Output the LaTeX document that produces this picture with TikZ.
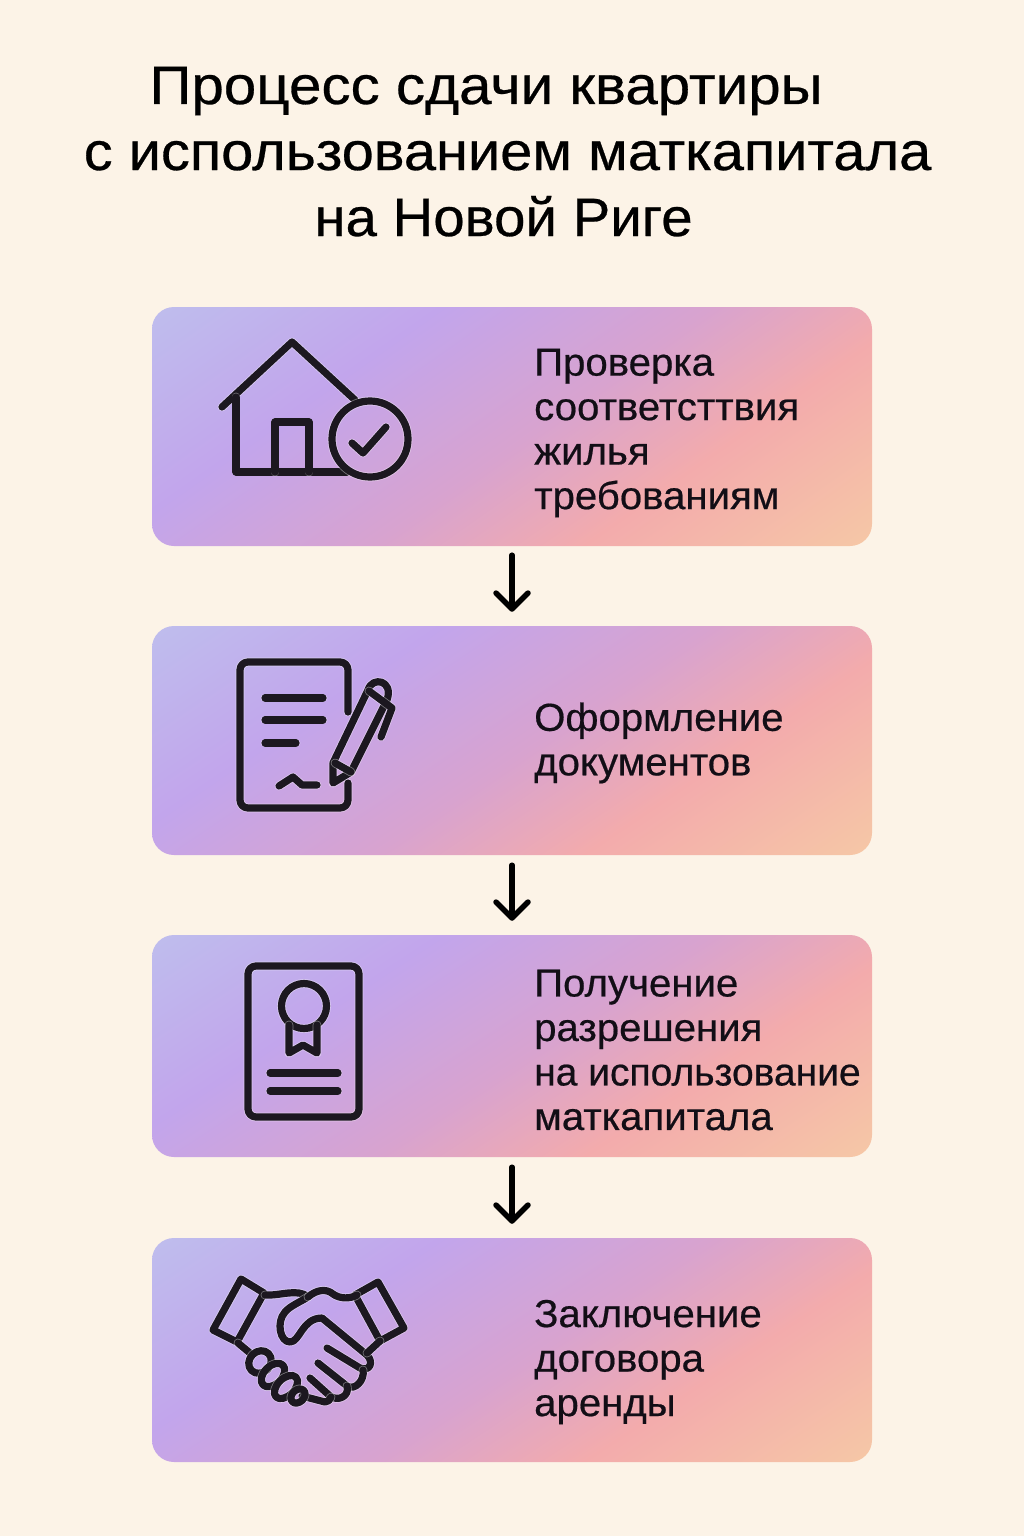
\documentclass[tikz,border=0pt]{standalone}
\usepackage{fontspec}
\setmainfont[FakeStretch=1.03,FakeBold=0.5]{Liberation Sans}
\usetikzlibrary{arrows.meta}
\definecolor{bgc}{HTML}{FCF3E7}
\definecolor{ink}{HTML}{1C1820}
\definecolor{txt}{HTML}{120E16}
\pgfdeclarefunctionalshading{boxgrad}{\pgfpoint{-50bp}{-50bp}}{\pgfpoint{50bp}{50bp}}{}{
35.355 add 70.71 div 1 exch sub 0.32 mul exch 35.355 add 70.71 div 0.68 mul add
dup 0.34 le {0.34 div dup 0.024 mul 0.737 add exch dup -0.169 mul 0.816 add exch -0.008 mul 0.933 add}
{dup 0.52 le {0.34 sub 0.18 div dup 0.086 mul 0.761 add exch dup -0.008 mul 0.647 add exch -0.113 mul 0.925 add}
{dup 0.66 le {0.52 sub 0.14 div dup 0.106 mul 0.847 add exch dup 0.032 mul 0.639 add exch -0.137 mul 0.812 add}
{0.66 sub 0.29 div dup 0.016 mul 0.953 add exch dup 0.168 mul 0.671 add exch -0.036 mul 0.675 add} ifelse} ifelse} ifelse
}
\newcommand{\widthfit}[1]{\addfontfeature{FakeStretch=#1}}
\tikzset{
  stepbox/.style={shading=boxgrad,rounded corners=22pt,minimum width=720pt,inner sep=0pt,draw=none},
  steptext/.style={anchor=west,align=left,inner sep=0pt,text=txt,font=\fontsize{39}{44.5}\selectfont},
  titletext/.style={anchor=base,inner sep=0pt,text=black,font=\fontsize{54}{60}\selectfont},
  flow/.style={draw=black,line width=5.5pt,line cap=round,-{Straight Barb[round,length=16pt,width=32pt]}},
  iconline/.style={draw=ink,line width=7.2pt,line cap=round,line join=round},
  halo/.style={draw=white,draw opacity=0.4,line width=8.8pt,line cap=round,line join=round},
}
\newcommand{\iconpath}[1]{\draw[halo] #1; \draw[iconline] #1;}
\begin{document}
\begin{tikzpicture}[x=1pt,y=-1pt]
\useasboundingbox (0,0) rectangle (1024,1536);
\fill[bgc] (0,0) rectangle (1024,1536);
\node[titletext] (t1) at (486,104) {\widthfit{1.08}Процесс сдачи квартиры};
\node[titletext] (t2) at (507.5,170) {\widthfit{1.07}с использованием маткапитала};
\node[titletext] (t3) at (503.5,236) {\widthfit{1.045}на Новой Риге};

\node[stepbox,minimum height=239pt] (b1) at (512,426.5) {};
\node[stepbox,minimum height=229pt] (b2) at (512,740.5) {};
\node[stepbox,minimum height=222pt] (b3) at (512,1046) {};
\node[stepbox,minimum height=224pt] (b4) at (512,1350) {};

\node[steptext] (l1) at (534,433) {Проверка\\соответсттвия\\жилья\\требованиям};
\node[steptext] (l2) at (534,743) {Оформление\\документов};
\node[steptext] (l3) at (534,1050) {Получение\\разрешения\\{\widthfit{1.0}на использование}\\маткапитала};
\node[steptext] (l4) at (534,1362) {Заключение\\договора\\аренды};

\draw[flow,shorten <=9pt,shorten >=14pt] (b1.south) -- (b2.north);
\draw[flow,shorten <=10pt,shorten >=14pt] (b2.south) -- (b3.north);
\draw[flow,shorten <=10pt,shorten >=14pt] (b3.south) -- (b4.north);

% house
\iconpath{(222,407) -- (292,342) -- (355,400)}
\iconpath{(236,397) -- (236,472) -- (347,472)}
\iconpath{(275,472) -- (275,422) -- (309,422) -- (309,472)}
\iconpath{(370,439) circle (38)}
\iconpath{(352,443) -- (363,453) -- (386,427)}
% document
\iconpath{(348,712) -- (348,670) [rounded corners=8pt] -- (348,662) -- (240,662) -- (240,808) -- (348,808) [sharp corners] -- (348,783)}
\iconpath{(265,698) -- (323,698)}
\iconpath{(265,720) -- (323,720)}
\iconpath{(265,743) -- (296,743)}
\iconpath{(279,786) -- (293,777) -- (302,785) -- (317,785)}
\iconpath{(333,783) -- (333,763) -- (368,690) .. controls (372,676) and (394,680) .. (387,700) -- (351,772) -- cycle}
\iconpath{(335,763) -- (351,772)}
\iconpath{(369,691) -- (392,708) -- (381,737)}
% certificate
\iconpath{[rounded corners=8pt] (248,966) rectangle (359,1117)}
\iconpath{(304,1006) circle (22.5)}
\iconpath{(289,1025) -- (289,1053) -- (303,1045) -- (317,1053) -- (317,1025)}
\iconpath{(270,1073) -- (338,1073)}
\iconpath{(270,1091) -- (338,1091)}
% handshake
\iconpath{(241,1279) -- (213,1330) -- (237,1342) -- (264,1293) -- cycle}
\iconpath{(378,1282) -- (404,1328) -- (380,1341) -- (355,1295) -- cycle}
\iconpath{(265,1295) .. controls (280,1296) and (298,1288) .. (308,1297)}
\iconpath{(308,1297) .. controls (300,1302) and (290,1306) .. (285,1312) .. controls (276,1322) and (280,1342) .. (290,1342) .. controls (300,1342) and (302,1318) .. (322,1318) -- (367,1355) .. controls (374,1362) and (370,1372) .. (360,1368) -- (327,1348)}
\iconpath{(308,1297) .. controls (316,1290) and (326,1288) .. (333,1294) .. controls (340,1299) and (350,1299) .. (357,1295)}
\iconpath{(380,1341) -- (367,1353)}
\iconpath{(318,1363) -- (347,1386) .. controls (355,1391) and (365,1380) .. (363,1370)}
\iconpath{(310,1378) -- (330,1396) .. controls (338,1402) and (350,1396) .. (347,1386)}
\iconpath{(302,1396) -- (325,1402) .. controls (328,1402) and (330,1400) .. (331,1397)}
\iconpath{(238,1343) -- (250,1353)}
\iconpath{(260,1362) ellipse [x radius=12,y radius=10.5,rotate=45]}
\iconpath{(273,1375) ellipse [x radius=14,y radius=9,rotate=45]}
\iconpath{(286,1387) ellipse [x radius=14,y radius=8.5,rotate=45]}
\iconpath{(298,1396) ellipse [x radius=8,y radius=6,rotate=45]}
\end{tikzpicture}
\end{document}
